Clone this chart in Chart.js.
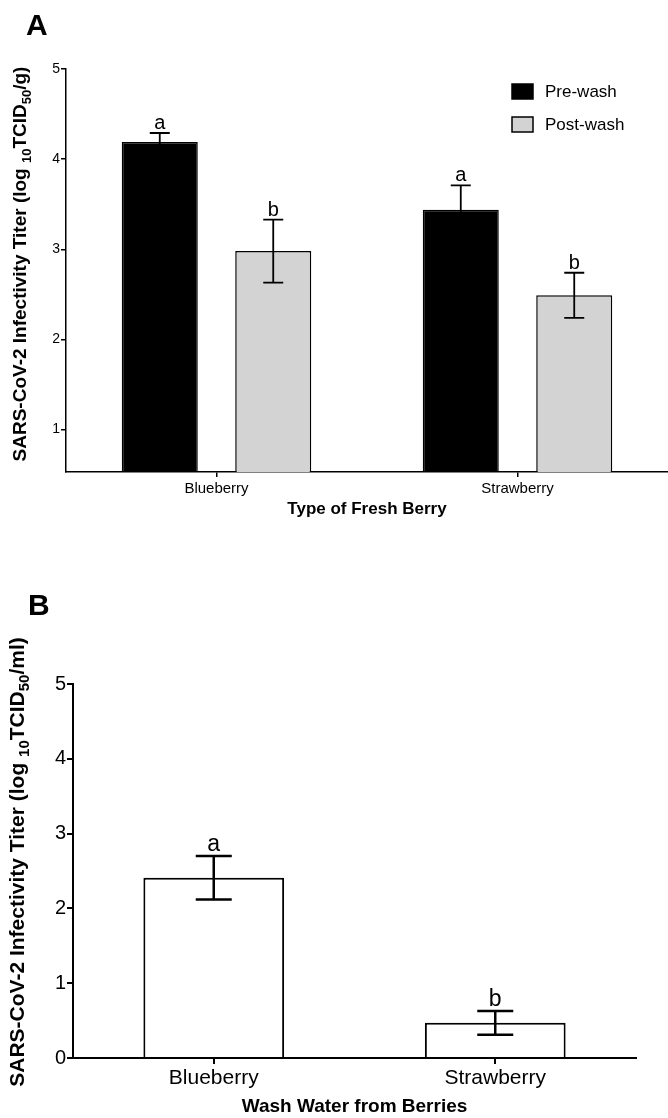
<!DOCTYPE html>
<html>
<head>
<meta charset="utf-8">
<script src="https://cdn.jsdelivr.net/npm/chart.js@4.4.0/dist/chart.umd.min.js"></script>
<style>
body{margin:0;background:#fff;width:668px;height:1118px;position:relative;overflow:hidden;font-family:"Liberation Sans",Arial,sans-serif;}
.panel{position:absolute;left:0;width:668px;}
.tag{position:absolute;font-weight:bold;font-size:30px;color:#000;z-index:2;}
</style>
</head>
<body>
<div class="panel" style="top:0;height:530px"><canvas id="chartA" width="668" height="530"></canvas></div>
<div class="panel" style="top:540px;height:578px"><canvas id="chartB" width="668" height="578"></canvas></div>
<div class="tag" style="left:26px;top:8px">A</div>
<div class="tag" style="left:28px;top:588px">B</div>
<script>
var F = '"Liberation Sans", Arial, sans-serif';

// panel A data
var berries = ['Blueberry', 'Strawberry'];
var preWash = [4.19, 3.44];
var preWashErr = [0.10, 0.27];
var preLetters = ['a', 'a'];
var postWash = [2.98, 2.49];
var postWashErr = [0.35, 0.25];
var postLetters = ['b', 'b'];
var ticksA = [1, 2, 3, 4, 5];

// panel B data
var washWater = [2.41, 0.47];
var washWaterErr = [0.29, 0.16];
var washLetters = ['a', 'b'];
var ticksB = [0, 1, 2, 3, 4, 5];

var errorBars = {
  id: 'errorBars',
  afterDatasetsDraw: function(chart, args, opts) {
    var ctx = chart.ctx;
    var ys = chart.scales.y;
    chart.data.datasets.forEach(function(ds, i) {
      var meta = chart.getDatasetMeta(i);
      meta.data.forEach(function(bar, j) {
        var v = ds.data[j], e = ds.errors[j];
        var top = ys.getPixelForValue(v + e), bot = ys.getPixelForValue(v - e);
        ctx.save();
        ctx.strokeStyle = '#000';
        ctx.lineWidth = opts.width;
        ctx.beginPath();
        ctx.moveTo(bar.x, top); ctx.lineTo(bar.x, bot);
        ctx.moveTo(bar.x - opts.cap, top); ctx.lineTo(bar.x + opts.cap, top);
        ctx.moveTo(bar.x - opts.cap, bot); ctx.lineTo(bar.x + opts.cap, bot);
        ctx.stroke();
        ctx.fillStyle = '#000';
        ctx.font = opts.size + 'px ' + F;
        ctx.textAlign = 'center';
        ctx.textBaseline = 'alphabetic';
        ctx.fillText(ds.letters[j], bar.x, top - opts.gap);
        ctx.restore();
      });
    });
  }
};

// y title with subscripts
var yTitle = {
  id: 'yTitle',
  afterDraw: function(chart, args, opts) {
    var ctx = chart.ctx;
    var big = 'bold ' + opts.size + 'px ' + F;
    var small = 'bold ' + Math.round(opts.size * 0.7) + 'px ' + F;
    var total = 0;
    opts.parts.forEach(function(p) {
      ctx.font = p[1] ? small : big;
      total += ctx.measureText(p[0]).width;
    });
    ctx.save();
    ctx.translate(opts.x, opts.cy);
    ctx.rotate(-Math.PI / 2);
    ctx.fillStyle = '#000';
    ctx.textBaseline = 'middle';
    ctx.textAlign = 'left';
    var pos = -total / 2;
    opts.parts.forEach(function(p) {
      ctx.font = p[1] ? small : big;
      ctx.fillText(p[0], pos, p[1] ? opts.size * 0.35 : 0);
      pos += ctx.measureText(p[0]).width;
    });
    ctx.restore();
  }
};

var boxLegend = {
  id: 'boxLegend',
  afterDraw: function(chart, args, opts) {
    if (!opts.show) return;
    var ctx = chart.ctx;
    ctx.save();
    chart.data.datasets.forEach(function(ds, i) {
      var y = opts.y + i * opts.step;
      ctx.fillStyle = ds.backgroundColor;
      ctx.fillRect(opts.x, y, 21, 15);
      ctx.strokeStyle = '#000';
      ctx.lineWidth = 1.5;
      ctx.strokeRect(opts.x, y, 21, 15);
      ctx.fillStyle = '#000';
      ctx.font = opts.size + 'px ' + F;
      ctx.textBaseline = 'middle';
      ctx.fillText(ds.label, opts.x + 33, y + 8);
    });
    ctx.restore();
  }
};

new Chart(document.getElementById('chartA'), {
  type: 'bar',
  data: {
    labels: berries,
    datasets: [
      {label: 'Pre-wash', data: preWash, errors: preWashErr, letters: preLetters,
       backgroundColor: '#000000', borderColor: '#000', borderWidth: 1.5,
       categoryPercentage: 0.754, barPercentage: 0.67},
      {label: 'Post-wash', data: postWash, errors: postWashErr, letters: postLetters,
       backgroundColor: '#d3d3d3', borderColor: '#000', borderWidth: 1.5,
       categoryPercentage: 0.754, barPercentage: 0.67}
    ]
  },
  options: {
    responsive: false,
    animation: false,
    layout: {padding: {top: 69, left: 0, right: -4, bottom: 0}},
    plugins: {
      legend: {display: false},
      tooltip: {enabled: false},
      errorBars: {width: 1.8, cap: 10, gap: 4, size: 20},
      yTitle: {x: 21, cy: 264, size: 19, parts: [['SARS-CoV-2 Infectivity Titer (log ', 0], ['10', 1], ['TCID', 0], ['50', 1], ['/g)', 0]]},
      boxLegend: {show: true, x: 512, y: 84, step: 33, size: 17}
    },
    scales: {
      x: {
        offset: true,
        grid: {display: true, drawOnChartArea: false, drawTicks: true, tickLength: 5, offset: false, color: '#000', lineWidth: 1.5},
        border: {display: true, color: '#000', width: 1.5},
        ticks: {color: '#000', font: {size: 15, family: F}, padding: 3},
        title: {display: true, text: 'Type of Fresh Berry', color: '#000', font: {size: 17, weight: 'bold', family: F}, padding: {top: 0, bottom: 10}},
        afterFit: function(s) { s.height = 58; s.paddingLeft = 0; s.paddingRight = 0; }
      },
      y: {
        min: 0.53, max: 5,
        afterBuildTicks: function(s) { s.ticks = ticksA.map(function(v) { return {value: v}; }); },
        grid: {display: true, drawOnChartArea: false, tickLength: 5, color: '#000', lineWidth: 1.5},
        border: {display: true, color: '#000', width: 1.5},
        ticks: {color: '#000', font: {size: 14, family: F}, padding: 1},
        afterFit: function(s) { s.width = 66; s.paddingTop = 0; s.paddingBottom = 0; }
      }
    }
  },
  plugins: [errorBars, yTitle, boxLegend]
});

new Chart(document.getElementById('chartB'), {
  type: 'bar',
  data: {
    labels: berries,
    datasets: [
      {label: 'Wash water', data: washWater, errors: washWaterErr, letters: washLetters,
       backgroundColor: '#ffffff', borderColor: '#000', borderWidth: 2,
       categoryPercentage: 1, barPercentage: 0.5}
    ]
  },
  options: {
    responsive: false,
    animation: false,
    layout: {padding: {top: 144, left: 0, right: 32, bottom: 0}},
    plugins: {
      legend: {display: false},
      tooltip: {enabled: false},
      errorBars: {width: 2.5, cap: 18, gap: 5, size: 23},
      yTitle: {x: 18, cy: 322, size: 21, parts: [['SARS-CoV-2 Infectivity Titer (log ', 0], ['10', 1], ['TCID', 0], ['50', 1], ['/ml)', 0]]},
      boxLegend: {show: false}
    },
    scales: {
      x: {
        offset: true,
        grid: {display: true, drawOnChartArea: false, drawTicks: true, tickLength: 6, offset: false, color: '#000', lineWidth: 2},
        border: {display: true, color: '#000', width: 2},
        ticks: {color: '#000', font: {size: 21, family: F}, padding: 2},
        title: {display: true, text: 'Wash Water from Berries', color: '#000', font: {size: 19, weight: 'bold', family: F}, padding: {top: 0, bottom: 0}},
        afterFit: function(s) { s.height = 60; s.paddingLeft = 0; s.paddingRight = 0; }
      },
      y: {
        min: 0, max: 5,
        afterBuildTicks: function(s) { s.ticks = ticksB.map(function(v) { return {value: v}; }); },
        grid: {display: true, drawOnChartArea: false, tickLength: 6, color: '#000', lineWidth: 2},
        border: {display: true, color: '#000', width: 2},
        ticks: {color: '#000', font: {size: 20, family: F}, padding: 1},
        afterFit: function(s) { s.width = 73; s.paddingTop = 0; s.paddingBottom = 0; }
      }
    }
  },
  plugins: [errorBars, yTitle, boxLegend]
});
</script>
</body>
</html>
